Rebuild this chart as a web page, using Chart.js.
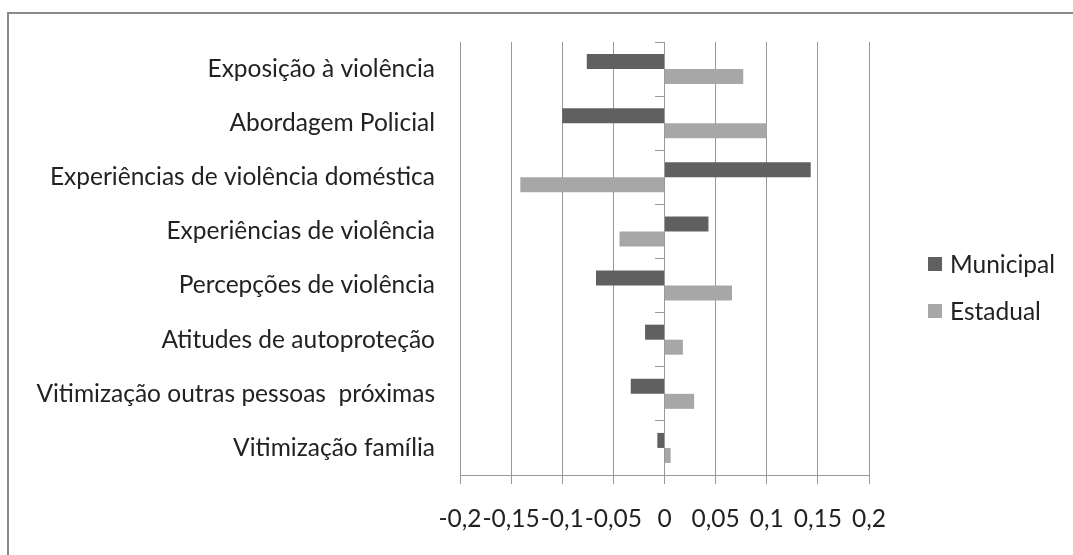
<!DOCTYPE html>
<html>
<head>
<meta charset="utf-8">
<script src="https://cdn.jsdelivr.net/npm/chart.js@4"></script>
<style>
  body { margin: 0; background: #fff; }
  #wrap { position: relative; width: 1073px; height: 555px; overflow: hidden; }
  #frame { position: absolute; left: 7px; top: 12px; width: 1200px; height: 700px;
           border-top: 2px solid #898989; border-left: 2px solid #898989; }
  #chart { position: absolute; left: 0; top: 0; }
  #legend { position: absolute; left: 928px; top: 240px; font-family: Lato, sans-serif;
            font-size: 24.5px; color: #222; }
  .legend-item { height: 47px; display: flex; align-items: center; }
  .legend-color { display: inline-block; width: 14px; height: 14px; margin-right: 8px; }
</style>
</head>
<body>
<div id="wrap">
  <div id="frame"></div>
  <canvas id="chart" width="1073" height="555"></canvas>
  <div id="legend"></div>
</div>
<script>
var categories = [
  "Exposição à violência",
  "Abordagem Policial",
  "Experiências de violência doméstica",
  "Experiências de violência",
  "Percepções de violência",
  "Atitudes de autoproteção",
  "Vitimização outras pessoas  próximas",
  "Vitimização família"
];
var municipal = [-0.076, -0.100, 0.143, 0.043, -0.067, -0.019, -0.033, -0.007];
var estadual = [0.077, 0.100, -0.141, -0.044, 0.066, 0.018, 0.029, 0.006];
var xTicks = { min: -0.2, max: 0.2, step: 0.05 };

var chartData = {
  labels: categories,
  datasets: [
    { label: "Municipal", data: municipal, backgroundColor: "#606060" },
    { label: "Estadual", data: estadual, backgroundColor: "#a7a7a7" }
  ]
};

var font = { family: "Lato, sans-serif", size: 24.5 };

new Chart(document.getElementById("chart"), {
  type: "bar",
  data: chartData,
  options: {
    indexAxis: "y",
    responsive: false,
    animation: false,
    layout: { padding: { top: 42, right: 204, left: 0, bottom: 0 } },
    datasets: { bar: { categoryPercentage: 0.555, barPercentage: 1 } },
    plugins: { legend: { display: false }, tooltip: { enabled: false } },
    scales: {
      x: {
        min: xTicks.min,
        max: xTicks.max,
        ticks: {
          stepSize: xTicks.step,
          padding: 20,
          color: "#222",
          font: font,
          autoSkip: false,
          maxRotation: 0,
          minRotation: 0,
          callback: function (value) {
            return Number(value.toFixed(2)).toString().replace(".", ",");
          }
        },
        grid: { color: "#999", tickLength: 9, tickColor: "#999" },
        border: { color: "#999" },
        afterFit: function (scale) { scale.height = 80; }
      },
      y: {
        ticks: { padding: 25, color: "#222", font: font, autoSkip: false },
        grid: { display: false, drawTicks: false },
        border: { display: false },
        afterFit: function (scale) { scale.width = 460; }
      },
      y2: {
        type: "category",
        labels: categories,
        position: { x: 0 },
        offset: true,
        ticks: { display: false },
        grid: { offset: true, drawOnChartArea: false, tickLength: 9, color: "#999" },
        border: { color: "#999" },
        afterFit: function (scale) { scale.width = 0; }
      }
    }
  }
});

function generateLegend(legendId, data) {
  var legendContainer = document.getElementById(legendId);
  legendContainer.innerHTML = "";
  data.datasets.forEach(function (ds) {
    var legendItem = document.createElement("div");
    legendItem.className = "legend-item";
    legendItem.innerHTML =
      '<span class="legend-color" style="background-color: ' + ds.backgroundColor + ';"></span>' + ds.label;
    legendContainer.appendChild(legendItem);
  });
}
generateLegend("legend", chartData);
</script>
</body>
</html>
